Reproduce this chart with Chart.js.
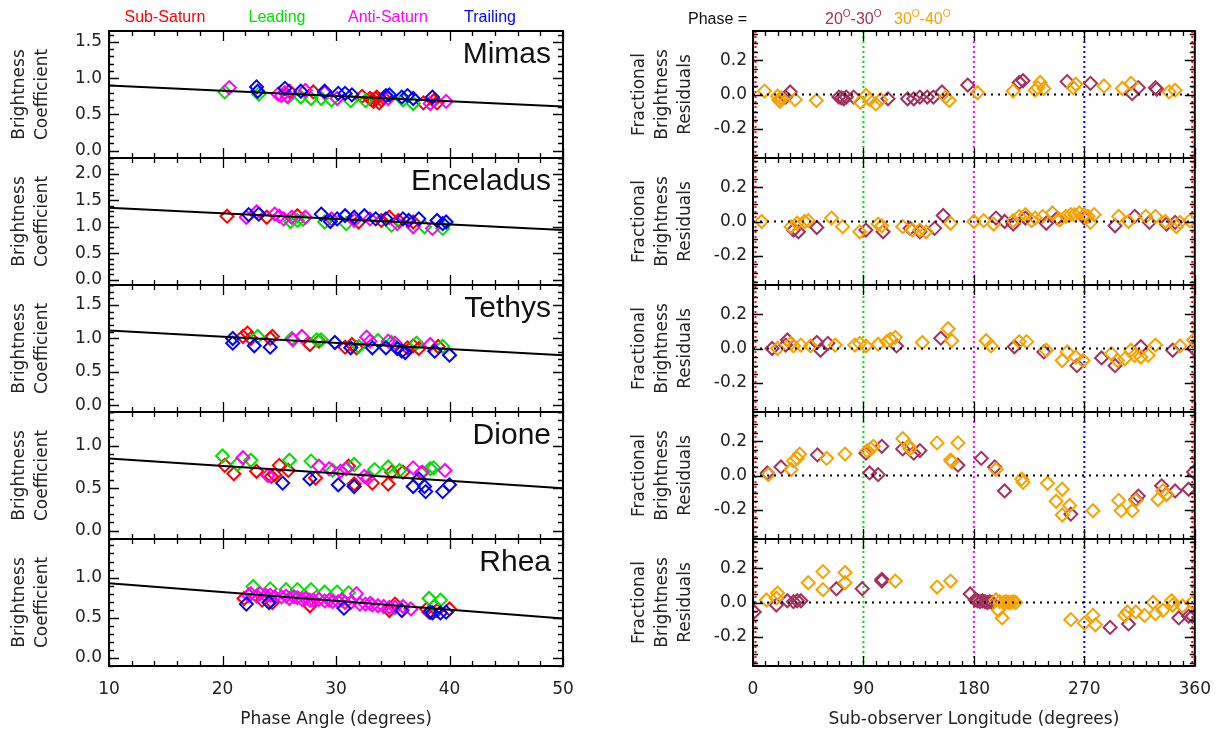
<!DOCTYPE html>
<html>
<head>
<meta charset="utf-8">
<script src="https://cdn.jsdelivr.net/npm/chart.js@4.4.1/dist/chart.umd.min.js"></script>
<style>
  html, body { margin: 0; padding: 0; background: #fff; }
  #wrap { position: relative; width: 1224px; height: 737px; }
  .col { position: absolute; top: 0; width: 612px; height: 737px; }
</style>
</head>
<body>
<div id="wrap">
  <div class="col" style="left:0"><canvas id="phase-chart" width="612" height="737"></canvas></div>
  <div class="col" style="left:612px"><canvas id="lon-chart" width="612" height="737"></canvas></div>
</div>
<script>
// axes / categories
const moonNames = ['Mimas', 'Enceladus', 'Tethys', 'Dione', 'Rhea'];
const phaseTicks = [10, 20, 30, 40, 50];
const lonTicks = [0, 90, 180, 270, 360];
const coefRange = [[-0.1, 1.65], [-0.1, 2.3], [-0.1, 1.8], [-0.1, 1.4], [-0.1, 1.48]];
const coefTicks = [[0, 0.5, 1, 1.5], [0, 0.5, 1, 1.5, 2], [0, 0.5, 1, 1.5], [0, 0.5, 1], [0, 0.5, 1]];
const residRange = [-0.37, 0.37];
const residTicks = [-0.2, 0, 0.2];
const geomLabels = ['Sub-Saturn', 'Leading', 'Anti-Saturn', 'Trailing'];
const guideLons = [0, 90, 180, 270, 360];

// phase angle vs brightness coefficient  [phase, coef]
const mimasSub = [[25.9,0.82],[28.0,0.81],[32.3,0.75],[33.0,0.72],[33.2,0.70],[33.3,0.68],[33.5,0.72],[33.6,0.74],[33.8,0.66],[34.0,0.70],[34.2,0.73],[37.7,0.66],[38.6,0.69],[38.9,0.66]];
const mimasLead = [[20.2,0.81],[23.2,0.78],[25.8,0.74],[26.9,0.74],[27.8,0.72],[28.7,0.72],[29.6,0.70],[31.3,0.69],[32.6,0.69],[35.9,0.70],[36.8,0.65]];
const mimasAnti = [[20.6,0.87],[24.9,0.78],[25.2,0.76],[25.5,0.80],[25.7,0.75],[27.3,0.83],[29.0,0.80],[30.1,0.72],[34.6,0.72],[38.3,0.65],[39.7,0.68]];
const mimasTrail = [[23.0,0.88],[23.1,0.82],[25.5,0.86],[26.9,0.82],[29.0,0.82],[30.2,0.79],[30.8,0.79],[31.4,0.77],[34.4,0.76],[34.7,0.77],[35.8,0.74],[36.3,0.76],[36.8,0.72],[38.5,0.74]];

const enceladusSub = [[20.4,1.20],[23.9,1.18],[26.6,1.21],[32.0,1.09],[34.0,1.12],[34.7,1.18],[35.5,1.12],[36.8,1.09]];
const enceladusLead = [[26.0,1.10],[26.6,1.12],[27.1,1.14],[29.0,1.09],[30.9,1.06],[34.9,1.03],[37.8,1.00],[39.4,0.97]];
const enceladusAnti = [[22.1,1.18],[23.0,1.28],[24.6,1.24],[25.0,1.20],[25.4,1.15],[26.1,1.18],[27.3,1.18],[29.6,1.15],[31.6,1.12],[33.0,1.15],[35.4,1.06],[36.8,1.00],[38.5,0.97]];
const enceladusTrail = [[22.3,1.23],[23.2,1.24],[28.7,1.24],[29.5,1.10],[30.1,1.15],[30.8,1.21],[31.6,1.18],[32.5,1.21],[33.5,1.15],[34.4,1.15],[35.9,1.15],[36.4,1.12],[37.3,1.15],[38.9,1.12],[39.4,1.06],[39.7,1.09]];

const tethysSub = [[21.8,1.03],[22.2,1.08],[22.5,1.00],[24.2,1.00],[24.4,1.03],[27.7,0.91],[28.5,0.96],[30.8,0.87],[31.4,0.91],[31.8,0.86],[36.3,0.86],[36.8,0.89],[37.3,0.85],[39.0,0.88]];
const tethysLead = [[23.1,1.03],[26.1,1.00],[28.3,0.98],[28.7,0.98],[32.0,0.88],[33.7,0.97],[34.9,0.94],[37.1,0.93],[39.4,0.88]];
const tethysAnti = [[26.2,0.98],[27.0,1.03],[32.7,1.02],[33.0,0.96],[34.6,0.96],[35.2,0.93],[38.3,0.91]];
const tethysTrail = [[20.9,1.00],[20.9,0.93],[22.8,0.89],[24.2,0.87],[29.9,0.94],[31.3,0.86],[33.2,0.86],[34.4,0.86],[35.4,0.85],[35.8,0.81],[36.1,0.79],[38.7,0.81],[40.0,0.75]];

const dioneSub = [[20.2,0.77],[21.0,0.67],[23.0,0.70],[24.3,0.64],[24.6,0.66],[25.0,0.77],[25.8,0.71],[28.2,0.62],[31.1,0.76],[31.6,0.55],[33.2,0.56],[34.6,0.55],[34.9,0.69],[35.9,0.69],[37.5,0.68]];
const dioneLead = [[20.0,0.88],[21.3,0.78],[22.5,0.83],[25.9,0.83],[27.8,0.82],[29.7,0.71],[31.6,0.78],[33.4,0.72],[34.6,0.75],[35.6,0.71],[38.3,0.73],[38.6,0.74]];
const dioneAnti = [[21.8,0.86],[24.0,0.65],[28.5,0.76],[29.4,0.73],[30.4,0.70],[30.9,0.73],[32.5,0.64],[32.8,0.62],[36.8,0.74],[37.6,0.69],[39.6,0.71]];
const dioneTrail = [[25.3,0.56],[27.7,0.61],[30.2,0.54],[31.6,0.52],[36.8,0.52],[37.3,0.61],[37.8,0.52],[37.9,0.46],[39.4,0.46],[40.0,0.54]];

const rheaSub = [[21.9,0.74],[23.5,0.72],[24.4,0.69],[27.7,0.65],[34.7,0.59],[35.2,0.67],[38.0,0.61],[38.2,0.57],[38.9,0.59],[40.0,0.61]];
const rheaLead = [[22.7,0.89],[24.2,0.86],[25.6,0.85],[26.6,0.85],[27.8,0.85],[29.0,0.82],[30.1,0.82],[31.1,0.81],[38.2,0.74],[38.7,0.65],[39.2,0.72]];
const rheaAnti = [[22.3,0.78],[22.5,0.80],[23.0,0.77],[23.3,0.80],[23.8,0.78],[24.2,0.78],[24.6,0.76],[25.2,0.76],[25.6,0.77],[25.9,0.74],[26.3,0.76],[26.6,0.75],[27.0,0.73],[27.3,0.74],[27.7,0.72],[28.0,0.72],[28.5,0.73],[29.0,0.71],[29.4,0.72],[29.7,0.70],[30.2,0.70],[30.5,0.72],[30.8,0.69],[31.3,0.69],[31.8,0.80],[32.1,0.67],[32.6,0.67],[33.0,0.68],[33.2,0.66],[33.7,0.65],[34.2,0.64],[34.7,0.63],[35.2,0.63],[35.9,0.64],[36.6,0.61]];
const rheaTrail = [[22.1,0.67],[24.1,0.69],[30.7,0.62],[35.8,0.59],[38.3,0.57],[38.5,0.56],[39.2,0.56],[39.7,0.57]];

// linear phase fits  [phase, coef]
const mimasFit = [[10,0.90],[50,0.61]];
const enceladusFit = [[10,1.36],[50,0.94]];
const tethysFit = [[10,1.12],[50,0.75]];
const dioneFit = [[10,0.85],[50,0.50]];
const rheaFit = [[10,0.93],[50,0.49]];

// sub-observer longitude vs residual  [lon, residual]
const mimasP20 = [[26.6,-0.015],[30.3,0.015],[70,-0.015],[72,-0.02],[74,-0.025],[76,-0.015],[82,-0.015],[110,-0.025],[126,-0.025],[131,-0.025],[136,-0.015],[142,-0.015],[147,-0.015],[154,0.015],[175,0.055],[217,0.07],[220,0.08],[256,0.075],[275,0.065],[309,0.005],[314,0.04],[328,0.04],[329,0.03]];
const mimasP30 = [[9.4,0.02],[20,-0.01],[21,-0.03],[22,-0.04],[23,-0.02],[34.4,-0.03],[51.6,-0.035],[87.5,-0.045],[92,-0.005],[95,-0.03],[100,-0.055],[104,-0.03],[157,-0.015],[160,-0.035],[183,0.01],[212,0.02],[230,0.025],[232,0.04],[234,0.07],[237,0.035],[261,0.04],[263,0.06],[286,0.05],[301,0.035],[308,0.065],[339,0.015],[344,0.025]];

const enceladusP20 = [[33,-0.05],[37,-0.06],[52,-0.035],[92,-0.05],[106,-0.06],[128,-0.04],[136,-0.06],[148,-0.04],[155,0.035],[198,0.02],[205,0.0],[212,-0.015],[222,0.02],[239,-0.01],[248,0.02],[270,0.02],[295,-0.025],[311,0.03],[323,-0.005],[337,-0.015],[344,-0.005]];
const enceladusP30 = [[7,0.0],[31,-0.03],[36,-0.01],[42,0.0],[45,0.005],[64,0.02],[73,-0.03],[87,-0.06],[102,-0.015],[105,-0.025],[122,-0.03],[130,-0.05],[136,-0.05],[141,-0.06],[161,-0.01],[180,0.0],[188,0.005],[196,-0.015],[212,0.005],[217,0.03],[222,0.04],[227,0.005],[230,0.02],[236,0.03],[244,0.05],[250,0.01],[255,0.03],[259,0.04],[262,0.04],[266,0.05],[270,0.04],[273,0.03],[275,-0.005],[278,0.04],[298,0.03],[306,0.0],[320,0.03],[328,0.03],[336,0.0],[345,-0.03],[348,-0.005],[356,0.005]];

const tethysP20 = [[15.6,0.0],[26.6,0.02],[28,0.05],[52,0.035],[55,-0.01],[61,0.03],[117,0.015],[153,0.06],[213,0.01],[237,-0.02],[264,-0.1],[284,-0.055],[295,-0.1],[316,0.01],[342,-0.01],[359,0.0]];
const tethysP30 = [[20,0.0],[31,0.03],[33,0.015],[39,0.02],[47,0.015],[67,0.02],[83,0.02],[87,0.03],[92,0.015],[102,0.025],[109,0.04],[112,0.055],[116,0.065],[138,0.035],[159,0.115],[162,0.045],[190,0.045],[194,0.015],[217,0.04],[223,0.04],[239,-0.01],[252,-0.07],[256,-0.02],[263,-0.05],[269,-0.07],[292,-0.03],[297,-0.07],[303,-0.06],[308,-0.01],[311,-0.04],[316,-0.05],[322,-0.04],[328,0.02],[348,0.015],[359,0.05]];

const dioneP20 = [[11.6,0.015],[22.8,0.05],[52.5,0.12],[92,0.13],[95,0.015],[102,0.005],[105,0.17],[122,0.155],[131,0.13],[136,0.145],[167,0.06],[186,0.1],[197,0.05],[205,-0.09],[259,-0.225],[312,-0.14],[314,-0.12],[333,-0.06],[337,-0.11],[344,-0.09],[355,-0.08],[359,0.02]];
const dioneP30 = [[12.5,0.005],[31,0.035],[33,0.085],[36,0.1],[38,0.125],[60,0.1],[75,0.125],[93,0.145],[96,0.155],[98,0.17],[122,0.215],[127,0.17],[128,0.155],[150,0.19],[161,0.09],[162,0.08],[167,0.19],[198,0.035],[219,-0.02],[220,-0.04],[240,-0.045],[247,-0.15],[252,-0.08],[252,-0.23],[258,-0.175],[277,-0.205],[298,-0.145],[300,-0.205],[309,-0.205],[312,-0.145],[330,-0.14],[334,-0.09],[337,-0.11]];

const rheaP20 = [[1,-0.055],[19,-0.015],[28,0.01],[33,0.005],[36,0.01],[39,0.01],[68,0.08],[89,0.08],[105,0.125],[105,0.135],[177,0.05],[181,0.015],[183,0.01],[185,0.005],[187,0.01],[189,0.005],[191,0.0],[193,0.005],[195,0.0],[291,-0.145],[306,-0.125],[347,-0.09],[355,-0.08],[358,-0.08]];
const rheaP30 = [[11,0.015],[19,0.025],[20,0.055],[45,0.115],[57,0.18],[57,0.075],[75,0.175],[75,0.115],[116,0.125],[150,0.09],[161,0.125],[198,0.015],[200,-0.045],[203,-0.09],[201,0.005],[204,0.0],[206,0.005],[208,0.0],[210,0.0],[212,0.005],[214,0.0],[259,-0.1],[270,-0.12],[277,-0.075],[279,-0.13],[303,-0.075],[305,-0.055],[312,-0.055],[319,-0.075],[326,0.0],[328,-0.065],[334,-0.045],[341,0.01],[342,-0.015],[350,-0.02],[358,0.0]];

const geomColors = ['#ff0000', '#00e000', '#ff00ff', '#0000ff'];
const phaseColors = ['#a3305f', '#f7a200'];
const guideColors = ['#ff0000', '#00e000', '#ff00ff', '#0000ff', '#ff0000'];

const geomSeries = [
  [mimasSub, mimasLead, mimasAnti, mimasTrail],
  [enceladusSub, enceladusLead, enceladusAnti, enceladusTrail],
  [tethysSub, tethysLead, tethysAnti, tethysTrail],
  [dioneSub, dioneLead, dioneAnti, dioneTrail],
  [rheaSub, rheaLead, rheaAnti, rheaTrail],
];
const fits = [mimasFit, enceladusFit, tethysFit, dioneFit, rheaFit];
const residSeries = [
  [mimasP20, mimasP30],
  [enceladusP20, enceladusP30],
  [tethysP20, tethysP30],
  [dioneP20, dioneP30],
  [rheaP20, rheaP30],
];

const TXT = '#222';
const tickFont = { family: '"DejaVu Sans", sans-serif', size: 17 };
const toXY = arr => arr.map(p => ({ x: p[0], y: p[1] }));

function diamonds(arr, color, axis) {
  return {
    type: 'scatter',
    data: toXY(arr),
    yAxisID: axis,
    pointStyle: 'rectRot',
    pointRadius: 6.5,
    pointHoverRadius: 6.5,
    borderWidth: 2,
    borderColor: color,
    backgroundColor: 'rgba(0,0,0,0)',
  };
}

// frames, inward ticks (major + minor) and moon names for each stacked panel
function panelPlugin(id, nPanels, xStep, xMinor, yStep, yMinor, names) {
  return {
    id: id,
    afterDatasetsDraw(chart) {
      const ctx = chart.ctx;
      const ca = chart.chartArea;
      const xs = chart.scales.x;
      ctx.save();
      ctx.strokeStyle = '#000';
      for (let i = 0; i < nPanels; i++) {
        const ys = chart.scales['y' + i];
        const top = ys.top, bot = ys.bottom;
        ctx.lineWidth = 1.3;
        ctx.beginPath();
        for (let k = Math.ceil(xs.min / xMinor - 1e-6); k * xMinor <= xs.max + 1e-6; k++) {
          const v = k * xMinor;
          const major = Math.abs(v / xStep - Math.round(v / xStep)) < 1e-6;
          const len = major ? 10 : 5;
          const px = Math.round(xs.getPixelForValue(v)) + 0.5;
          ctx.moveTo(px, top); ctx.lineTo(px, top + len);
          ctx.moveTo(px, bot); ctx.lineTo(px, bot - len);
        }
        for (let k = Math.ceil(ys.min / yMinor - 1e-6); k * yMinor <= ys.max + 1e-6; k++) {
          const v = k * yMinor;
          const major = Math.abs(v / yStep - Math.round(v / yStep)) < 1e-6;
          const len = major ? 10 : 5;
          const py = Math.round(ys.getPixelForValue(v)) + 0.5;
          ctx.moveTo(ca.left, py); ctx.lineTo(ca.left + len, py);
          ctx.moveTo(ca.right, py); ctx.lineTo(ca.right - len, py);
        }
        ctx.stroke();
        ctx.lineWidth = 2;
        ctx.strokeRect(ca.left, top, ca.right - ca.left, bot - top);
        if (names) {
          ctx.fillStyle = '#111';
          ctx.font = '30px "Liberation Sans", Arial, sans-serif';
          ctx.textAlign = 'right';
          ctx.textBaseline = 'alphabetic';
          ctx.fillText(names[i], ca.right - 12, top + 32);
        }
      }
      ctx.restore();
    }
  };
}

const geomLegend = {
  id: 'geomLegend',
  afterDraw(chart) {
    const ctx = chart.ctx;
    const centers = [165, 277, 388, 490];
    ctx.save();
    ctx.font = '16px "Liberation Sans", Arial, sans-serif';
    ctx.textAlign = 'center';
    ctx.textBaseline = 'middle';
    geomLabels.forEach((t, i) => {
      ctx.fillStyle = geomColors[i];
      ctx.fillText(t, centers[i], 18);
    });
    ctx.restore();
  }
};

function drawRange(ctx, x, y, a, b, color) {
  // "aO-bO" with superscript O (degrees)
  ctx.fillStyle = color;
  const big = '16px "Liberation Sans", Arial, sans-serif';
  const small = '10px "Liberation Sans", Arial, sans-serif';
  const parts = [[a, big, 0], ['O', small, -7], ['-' + b, big, 0], ['O', small, -7]];
  parts.forEach(p => {
    ctx.font = p[1];
    ctx.fillText(p[0], x, y + p[2]);
    x += ctx.measureText(p[0]).width;
  });
}

const phaseLegend = {
  id: 'phaseLegend',
  afterDraw(chart) {
    const ctx = chart.ctx;
    ctx.save();
    ctx.textAlign = 'left';
    ctx.textBaseline = 'alphabetic';
    ctx.font = '16px "Liberation Sans", Arial, sans-serif';
    ctx.fillStyle = '#111';
    ctx.fillText('Phase =', 688 - 612, 24);
    drawRange(ctx, 825 - 612, 24, '20', '30', phaseColors[0]);
    drawRange(ctx, 894 - 612, 24, '30', '40', phaseColors[1]);
    ctx.restore();
  }
};

const guideLines = {
  id: 'guideLines',
  beforeDatasetsDraw(chart) {
    const ctx = chart.ctx;
    const ca = chart.chartArea;
    const xs = chart.scales.x;
    ctx.save();
    ctx.lineWidth = 2;
    ctx.setLineDash([2, 3]);
    guideLons.forEach((v, i) => {
      let px = xs.getPixelForValue(v);
      if (i === 0) px += 2.5;
      if (i === guideLons.length - 1) px -= 2.5;
      ctx.strokeStyle = guideColors[i];
      ctx.beginPath();
      ctx.moveTo(px, ca.top);
      ctx.lineTo(px, ca.bottom);
      ctx.stroke();
    });
    ctx.restore();
  }
};

// ---------- left column: brightness coefficient vs phase ----------
// stacked axes are laid out bottom-first, so they are added Rhea -> Mimas
const phaseDatasets = [];
const phaseScales = {
  x: {
    type: 'linear', position: 'bottom', min: 10, max: 50,
    afterBuildTicks: s => { s.ticks = phaseTicks.map(v => ({ value: v })); },
    afterFit: s => { s.height = 71; },
    grid: { display: false, drawTicks: false },
    border: { display: false },
    ticks: { font: tickFont, color: TXT, padding: 13, maxRotation: 0, autoSkip: false },
    title: { display: true, text: 'Phase Angle (degrees)', font: tickFont, color: TXT, padding: { top: 0, bottom: 7 } },
  }
};
for (let i = moonNames.length - 1; i >= 0; i--) {
  const axis = 'y' + i;
  phaseDatasets.push({
    type: 'line', data: toXY(fits[i]), yAxisID: axis,
    borderColor: '#000', borderWidth: 2, pointRadius: 0, pointHoverRadius: 0, fill: false,
  });
  for (let j = 3; j >= 0; j--) phaseDatasets.push(diamonds(geomSeries[i][j], geomColors[j], axis));
  phaseScales[axis] = {
    type: 'linear', position: 'left', stack: 'moons', stackWeight: 1,
    min: coefRange[i][0], max: coefRange[i][1],
    afterBuildTicks: s => { s.ticks = coefTicks[i].map(v => ({ value: v })); },
    afterFit: s => { s.width = 109; },
    grid: { display: false, drawTicks: false },
    border: { display: false },
    ticks: { font: tickFont, color: TXT, padding: 7, autoSkip: false, callback: v => v.toFixed(1) },
    title: { display: true, text: ['Brightness', 'Coefficient'], font: { family: tickFont.family, size: 17, lineHeight: 1.3 }, color: TXT, padding: { top: 9, bottom: 0 } },
  };
}

new Chart(document.getElementById('phase-chart'), {
  type: 'scatter',
  data: { datasets: phaseDatasets },
  options: {
    responsive: false,
    animation: false,
    layout: { padding: { top: 31, right: 49, bottom: 0, left: 0 } },
    plugins: { legend: { display: false }, tooltip: { enabled: false } },
    scales: phaseScales,
  },
  plugins: [panelPlugin('phaseFrames', 5, 10, 2, 0.5, 0.1, moonNames), geomLegend],
});

// ---------- right column: residuals vs sub-observer longitude ----------
const lonDatasets = [];
const lonScales = {
  x: {
    type: 'linear', position: 'bottom', min: 0, max: 360,
    afterBuildTicks: s => { s.ticks = lonTicks.map(v => ({ value: v })); },
    afterFit: s => { s.height = 71; },
    grid: { display: false, drawTicks: false },
    border: { display: false },
    ticks: { font: tickFont, color: TXT, padding: 13, maxRotation: 0, autoSkip: false },
    title: { display: true, text: 'Sub-observer Longitude (degrees)', font: tickFont, color: TXT, padding: { top: 0, bottom: 7 } },
  }
};
for (let i = moonNames.length - 1; i >= 0; i--) {
  const axis = 'y' + i;
  lonDatasets.push({
    type: 'line', data: [{ x: lonTicks[0], y: 0 }, { x: lonTicks[lonTicks.length - 1], y: 0 }], yAxisID: axis,
    borderColor: '#000', borderWidth: 2, borderDash: [2, 5], pointRadius: 0, pointHoverRadius: 0, fill: false,
  });
  lonDatasets.push(diamonds(residSeries[i][1], phaseColors[1], axis));
  lonDatasets.push(diamonds(residSeries[i][0], phaseColors[0], axis));
  lonScales[axis] = {
    type: 'linear', position: 'left', stack: 'moons', stackWeight: 1,
    min: residRange[0], max: residRange[1],
    afterBuildTicks: s => { s.ticks = residTicks.map(v => ({ value: v })); },
    afterFit: s => { s.width = 141; },
    grid: { display: false, drawTicks: false },
    border: { display: false },
    ticks: { font: tickFont, color: TXT, padding: 6, autoSkip: false, callback: v => (Math.abs(v) < 1e-9 ? 0 : v).toFixed(1) },
    title: { display: true, text: ['Fractional', 'Brightness', 'Residuals'], font: { family: tickFont.family, size: 17, lineHeight: 1.35 }, color: TXT, padding: { top: 16, bottom: 0 } },
  };
}

new Chart(document.getElementById('lon-chart'), {
  type: 'scatter',
  data: { datasets: lonDatasets },
  options: {
    responsive: false,
    animation: false,
    layout: { padding: { top: 31, right: 18, bottom: 0, left: 0 } },
    plugins: { legend: { display: false }, tooltip: { enabled: false } },
    scales: lonScales,
  },
  plugins: [guideLines, panelPlugin('lonFrames', 5, 90, 10, 0.2, 0.05, null), phaseLegend],
});
</script>
</body>
</html>
